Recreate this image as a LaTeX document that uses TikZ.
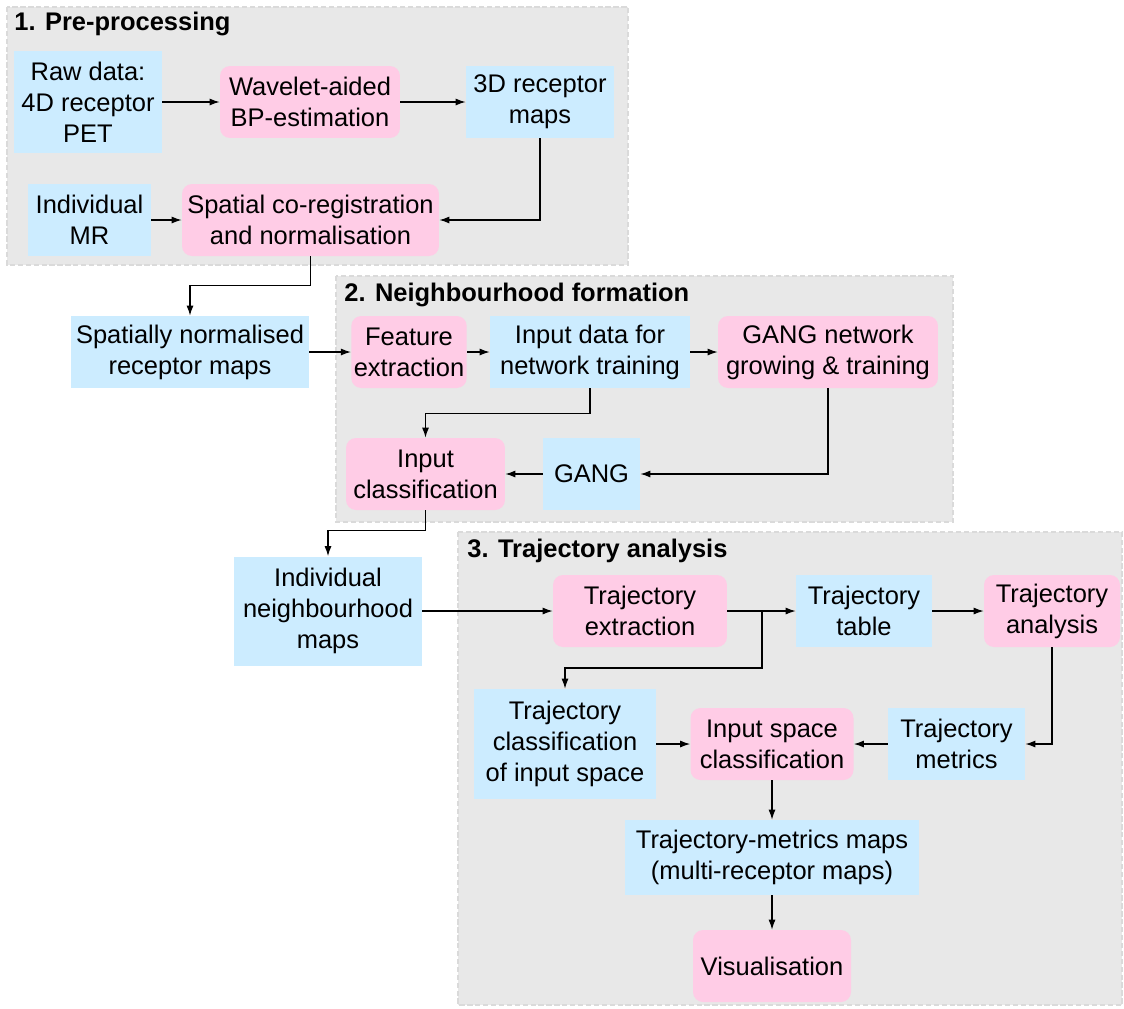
\documentclass[tikz,border=0pt]{standalone}
\usepackage{fontspec}
\setmainfont{Liberation Sans}
\usetikzlibrary{arrows.meta}
\definecolor{boxblue}{RGB}{204,236,255}
\definecolor{boxpink}{RGB}{255,204,230}
\definecolor{panelgray}{RGB}{232,232,232}
\definecolor{panelline}{RGB}{218,218,218}
\tikzset{bx/.append style={minimum height=1.44cm, align=center, inner sep=0.05cm, font=\fontsize{14.5}{17.6}\selectfont}}
\tikzset{bl/.append style={bx, fill=boxblue}}
\tikzset{pk/.append style={bx, fill=boxpink, rounded corners=0.2cm}}
\tikzset{ar/.append style={-{Latex[length=0.2cm,width=0.14cm]}, line width=0.7pt}}
\tikzset{pnl/.append style={fill=panelgray, draw=panelline, dash pattern=on 3pt off 1.5pt, line width=0.8pt}}
\tikzset{ttl/.append style={anchor=west, inner sep=0pt, font=\fontsize{14.5}{17.6}\selectfont\bfseries}}

\begin{document}
\begin{tikzpicture}[x=0.02cm, y=-0.02cm]
                \useasboundingbox (0,0) rectangle (1124,1008);
                % panels
                \draw[pnl] (7,7) rectangle (628,265);
                \draw[pnl] (336,276) rectangle (953,522);
                \draw[pnl] (458,532) rectangle (1122,1005);
                \node[ttl] (t1) at (14,24) {1. Pre-processing};
                \node[ttl] (t2) at (344,295) {2. Neighbourhood formation};
                \node[ttl] (t3) at (467,551) {3. Trajectory analysis};
                % 1. pre-processing
                \node[bl, minimum width=2.96cm, minimum height=2.06cm] (raw) at (88,102) {Raw data:\\4D receptor\\PET};
                \node[pk, minimum width=3.6cm] (wav) at (310,102) {Wavelet-aided\\BP-estimation};
                \node[bl, minimum width=2.96cm] (maps) at (540,102) {3D receptor\\maps};
                \node[bl, minimum width=2.46cm] (mr) at (89.5,220) {Individual\\MR};
                \node[pk, minimum width=5.14cm] (spat) at (310.5,220) {Spatial co-registration\\and normalisation};
                % 2. neighbourhood formation
                \node[bl, minimum width=4.76cm] (norm) at (190,352) {Spatially normalised\\receptor maps};
                \node[pk, minimum width=2.28cm] (feat) at (409,352) {Feature\\extraction};
                \node[bl, minimum width=4.0cm] (indata) at (590,352) {Input data for\\network training};
                \node[pk, minimum width=4.4cm] (grow) at (828,352) {GANG network\\growing \& training};
                \node[pk, minimum width=3.18cm] (incls) at (425.5,474) {Input\\classification};
                \node[bl, minimum width=1.94cm] (gang) at (591.5,474) {GANG};
                % 3. trajectory analysis
                \node[bl, minimum width=3.76cm, minimum height=2.18cm] (nbh) at (328,611) {Individual\\neighbourhood\\maps};
                \node[pk, minimum width=3.48cm] (trext) at (640,611) {Trajectory\\extraction};
                \node[bl, minimum width=2.72cm] (trtab) at (864,611) {Trajectory\\table};
                \node[pk, minimum width=2.72cm] (trana) at (1052,611) {Trajectory\\analysis};
                \node[bl, minimum width=3.64cm, minimum height=2.2cm] (trcls) at (565,744) {Trajectory\\classification\\of input space};
                \node[pk, minimum width=3.26cm] (spcls) at (772,744) {Input space\\classification};
                \node[bl, minimum width=2.74cm] (trmet) at (956.5,744) {Trajectory\\metrics};
                \node[bl, minimum width=5.9cm, minimum height=1.5cm] (mmaps) at (772,857.5) {Trajectory-metrics maps\\(multi-receptor maps)};
                \node[pk, minimum width=3.16cm] (vis) at (772,966) {Visualisation};
                \coordinate (br) at (762,611);
                % connectors
                \path (raw) edge[ar] (wav);
                \path (wav) edge[ar] (maps);
                \draw[ar] (maps.south) |- (spat.east);
                \path (mr) edge[ar] (spat);
                \draw[ar] (spat.south) -- ++(0,29) -| (norm.north);
                \path (norm) edge[ar] (feat);
                \path (feat) edge[ar] (indata);
                \path (indata) edge[ar] (grow);
                \draw[ar] (indata.south) -- ++(0,25) -| (incls.north);
                \draw[ar] (grow.south) |- (gang.east);
                \path (gang) edge[ar] (incls);
                \draw[ar] (incls.south) -- ++(0,20) -| (nbh.north);
                \path (nbh) edge[ar] (trext);
                \path (trext) edge[ar] (trtab);
                \draw[ar] (br) -- ++(0,57) -| (trcls.north);
                \path (trtab) edge[ar] (trana);
                \draw[ar] (trana.south) |- (trmet.east);
                \path (trmet) edge[ar] (spcls);
                \path (trcls) edge[ar] (spcls);
                \path (spcls) edge[ar] (mmaps);
                \path (mmaps) edge[ar] (vis);
            \end{tikzpicture}
\end{document}
